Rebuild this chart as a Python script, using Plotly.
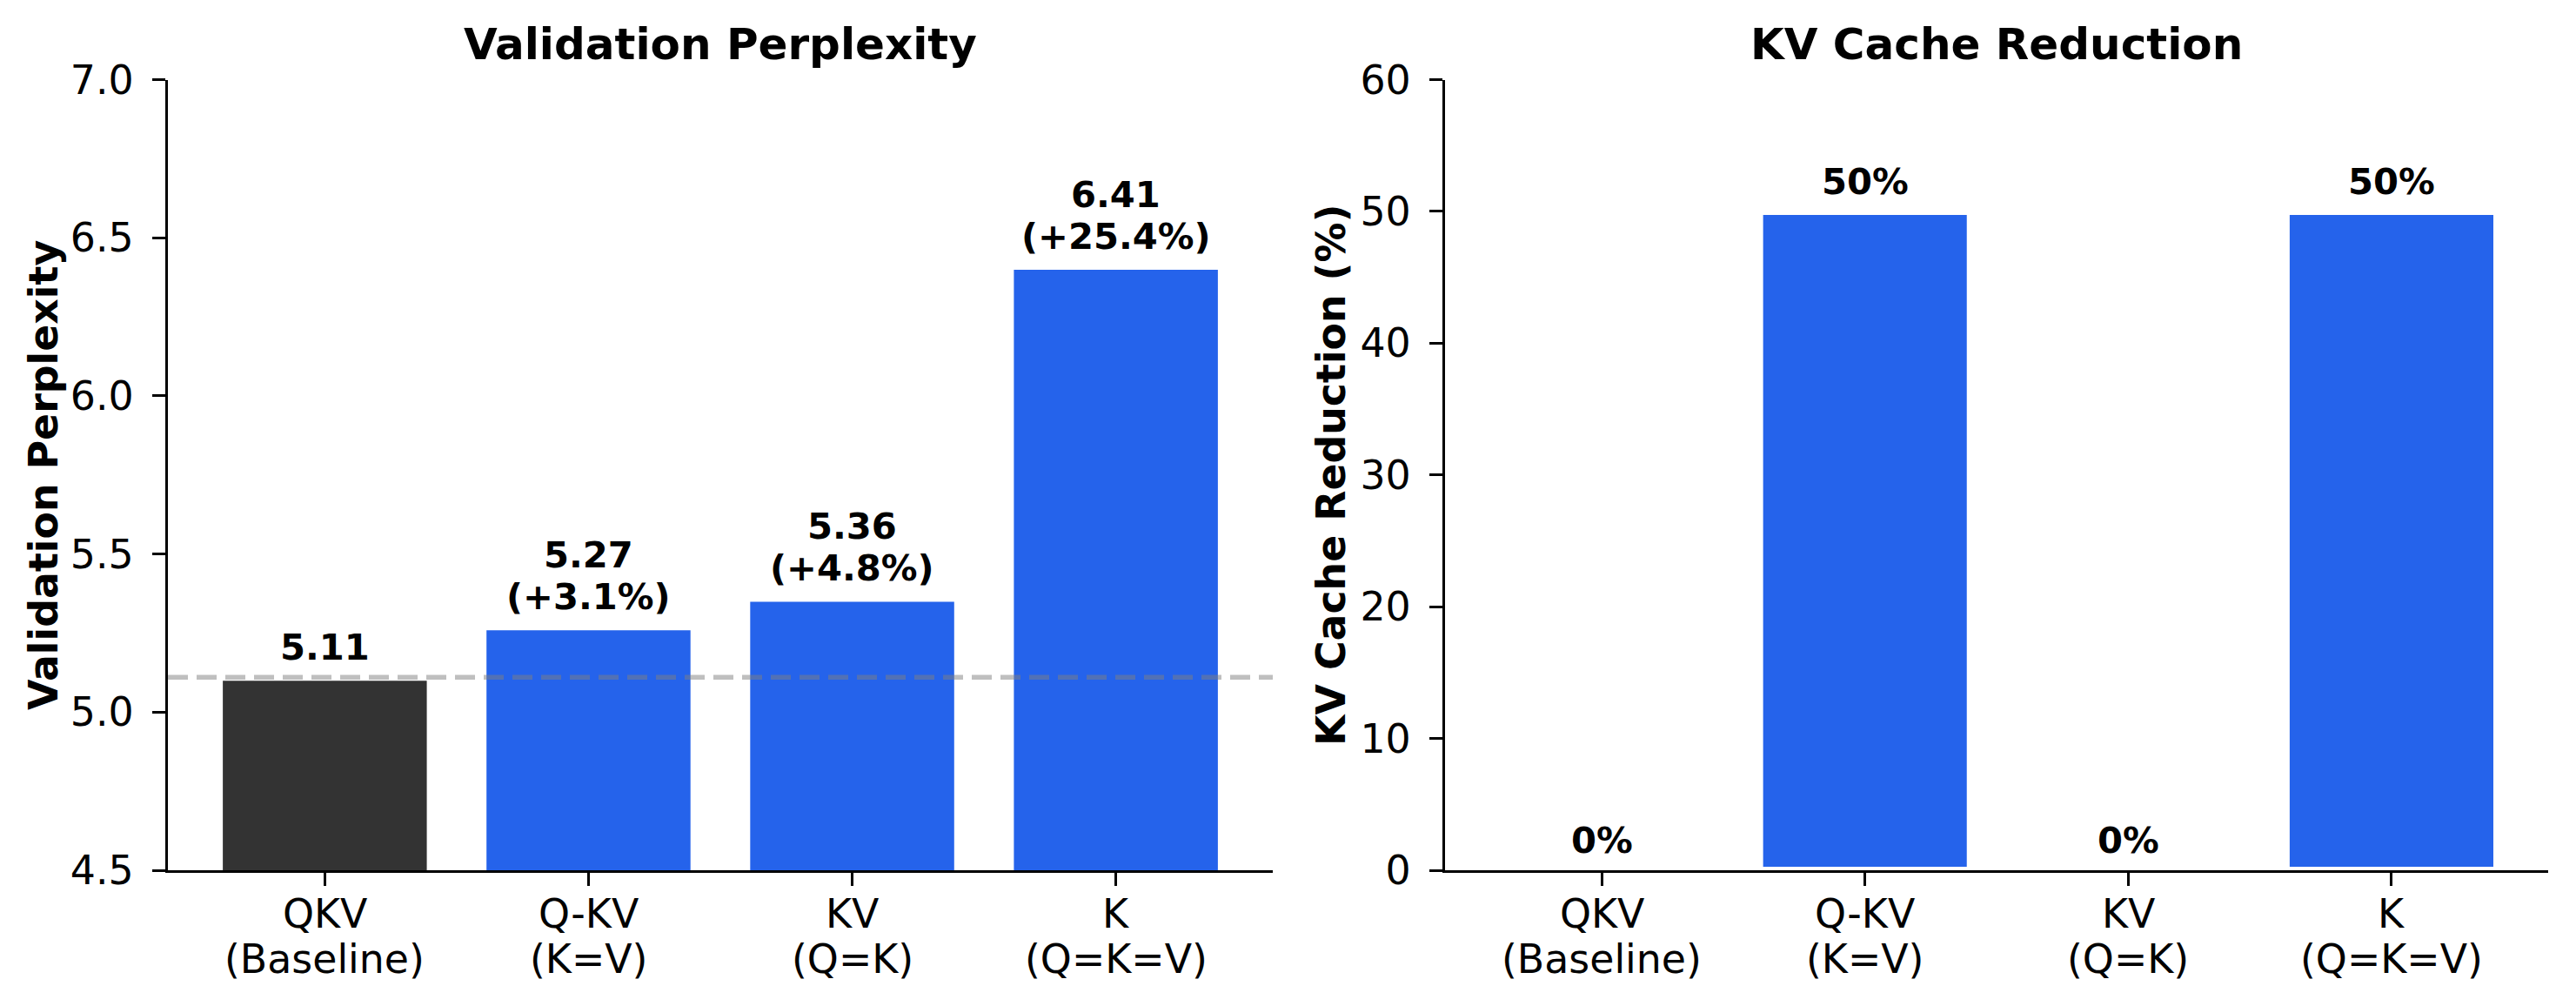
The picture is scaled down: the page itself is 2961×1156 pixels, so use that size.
import plotly.graph_objects as go

# ---- data ----
cat_names = ["QKV", "Q-KV", "KV", "K"]
cat_notes = ["(Baseline)", "(K=V)", "(Q=K)", "(Q=K=V)"]
perplexity = [5.11, 5.27, 5.36, 6.41]
perplexity_change = ["", "+3.1%", "+4.8%", "+25.4%"]
kv_reduction = [0, 50, 0, 50]
baseline_ppl = 5.11
ppl_ticks = [4.5, 5.0, 5.5, 6.0, 6.5, 7.0]
kv_ticks = [0, 10, 20, 30, 40, 50, 60]

W, H = 2961, 1156
FONT = "DejaVu Sans"
BLUE = "#2563EB"
DARK = "#333333"

xpos = list(range(len(cat_names)))

fig = go.Figure()

bar_colors = [DARK, BLUE, BLUE, BLUE]
fig.add_trace(go.Bar(
    x=xpos, y=perplexity,
    marker=dict(color=bar_colors, line=dict(color="white", width=8)),
    width=0.8, xaxis="x", yaxis="y", showlegend=False,
))
fig.add_trace(go.Bar(
    x=xpos, y=kv_reduction,
    marker=dict(color=BLUE, line=dict(color="white", width=8)),
    width=0.8, xaxis="x2", yaxis="y2", showlegend=False,
))

ydom = [1 - 1000 / H, 1 - 91.5 / H]
axis_common = dict(
    showline=True, linecolor="black", linewidth=3.3,
    ticks="outside", ticklen=15, tickwidth=3.3, tickcolor="black",
    showgrid=False, zeroline=False, automargin=False,
    tickfont=dict(family=FONT, size=45.8, color="black"),
)

fig.update_layout(
    width=W, height=H,
    margin=dict(l=0, r=0, t=0, b=0, autoexpand=False),
    paper_bgcolor="white", plot_bgcolor="white",
    xaxis=dict(domain=[193 / W, 1463 / W], anchor="y", range=[-0.595, 3.595],
               tickvals=xpos, showticklabels=False, **axis_common),
    yaxis=dict(domain=ydom, anchor="x", range=[4.5, 7.0], tickvals=ppl_ticks,
               ticktext=[f"{t:.1f}" for t in ppl_ticks], ticklabelstandoff=12, **axis_common),
    xaxis2=dict(domain=[1661 / W, 2929 / W], anchor="y2", range=[-0.595, 3.595],
                tickvals=xpos, showticklabels=False, **axis_common),
    yaxis2=dict(domain=ydom, anchor="x2", range=[0, 60], tickvals=kv_ticks,
                ticklabelstandoff=12, **axis_common),
)

# baseline dashed line
fig.add_shape(type="line", xref="x domain", yref="y", x0=0, x1=1,
              y0=baseline_ppl, y1=baseline_ppl,
              line=dict(color="rgba(128,128,128,0.5)", width=5.5, dash="23px,10px"),
              layer="above")

annotations = []
# titles
annotations.append(dict(text="<b>Validation Perplexity</b>", xref="paper", yref="paper",
                        x=828 / W, y=1 - 51 / H, xanchor="center", yanchor="middle",
                        showarrow=False, font=dict(family=FONT, size=50, color="black")))
annotations.append(dict(text="<b>KV Cache Reduction</b>", xref="paper", yref="paper",
                        x=2295 / W, y=1 - 51 / H, xanchor="center", yanchor="middle",
                        showarrow=False, font=dict(family=FONT, size=50, color="black")))
# y axis titles
annotations.append(dict(text="<b>Validation Perplexity</b>", xref="paper", yref="paper",
                        x=50 / W, y=1 - 546 / H, xanchor="center", yanchor="middle",
                        textangle=-90, showarrow=False,
                        font=dict(family=FONT, size=45.8, color="black")))
annotations.append(dict(text="<b>KV Cache Reduction (%)</b>", xref="paper", yref="paper",
                        x=1530 / W, y=1 - 546 / H, xanchor="center", yanchor="middle",
                        textangle=-90, showarrow=False,
                        font=dict(family=FONT, size=45.8, color="black")))

# x tick labels (two lines each)
for xa in ["x", "x2"]:
    for p, nm, nt in zip(xpos, cat_names, cat_notes):
        annotations.append(dict(text=nm, x=p, xref=xa, y=1 - 1050 / H, yref="paper",
                                xanchor="center", yanchor="middle", showarrow=False,
                                font=dict(family=FONT, size=45.8, color="black")))
        annotations.append(dict(text=nt, x=p, xref=xa, y=1 - 1102 / H, yref="paper",
                                xanchor="center", yanchor="middle", showarrow=False,
                                font=dict(family=FONT, size=45.8, color="black")))

# value labels
for p, v, ch in zip(xpos, perplexity, perplexity_change):
    lines = [f"{v:.2f}"] + ([f"({ch})"] if ch else [])
    for i, line in enumerate(reversed(lines)):
        annotations.append(dict(text=f"<b>{line}</b>", x=p, y=v, xref="x", yref="y",
                                xanchor="center", yanchor="bottom", yshift=8 + 48 * i,
                                showarrow=False,
                                font=dict(family=FONT, size=41.7, color="black")))
for p, v in zip(xpos, kv_reduction):
    annotations.append(dict(text=f"<b>{v:.0f}%</b>", x=p, y=v, xref="x2", yref="y2",
                            xanchor="center", yanchor="bottom", yshift=8,
                            showarrow=False,
                            font=dict(family=FONT, size=41.7, color="black")))

fig.update_layout(annotations=annotations)
fig.write_html("out.html")
